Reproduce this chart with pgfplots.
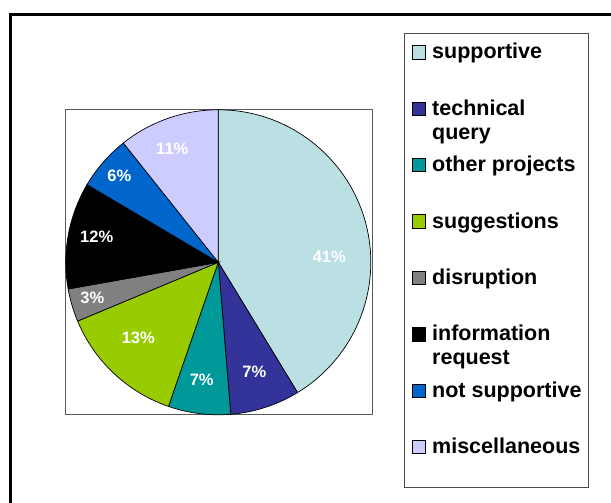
\documentclass[border=0pt]{standalone}
\usepackage{pgfplots}
\pgfplotsset{compat=1.18}
\usepackage{fontspec}
\setmainfont{Liberation Sans}

\definecolor{cSupp}{RGB}{187,224,227}
\definecolor{cTech}{RGB}{51,51,153}
\definecolor{cOther}{RGB}{0,153,153}
\definecolor{cSugg}{RGB}{153,204,0}
\definecolor{cDisr}{RGB}{128,128,128}
\definecolor{cInfo}{RGB}{0,0,0}
\definecolor{cNot}{RGB}{0,102,204}
\definecolor{cMisc}{RGB}{204,204,255}

% slice: {start %}{share %}{colour}, clockwise from the top
\newcommand{\slice}[3]{%
  \filldraw[fill=#3, draw=black, line width=0.7pt]
    (axis cs:0,0) -- (axis cs:{152.5*cos(90-3.6*#1)},{152.5*sin(90-3.6*#1)})
    arc[start angle={90-3.6*#1}, end angle={90-3.6*(#1+#2)}, radius=152.5] -- cycle;}
\newcommand{\plabel}[3]{%
  \node[text=white, font=\bfseries\fontsize{16.5}{19}\selectfont] at (axis cs:#1,#2) {#3};}
% legend entry: {baseline y}{colour}{text}
\newcommand{\lentry}[3]{%
  \filldraw[fill=#2, draw=black, line width=0.6pt] (412,#1) rectangle (425.5,#1+13.5);
  \node[anchor=base west, inner sep=0pt, font=\bfseries\fontsize{21.5}{24}\selectfont] at (432,#1) {#3};}

\begin{document}
\begin{tikzpicture}[x=1pt, y=1pt]
\useasboundingbox (0,0) rectangle (611,503);
\fill[white] (0,0) rectangle (611,503);
% outer frame (cut at right and bottom)
\draw[line width=2.6pt] (10.7,0) -- (10.7,488.5) -- (611,488.5);

\begin{axis}[
    at={(65,89)}, anchor=south west,
    x=1pt, y=1pt,
    xmin=-153.3, xmax=153.7,
    ymin=-151.7, ymax=153.3,
    xtick=\empty, ytick=\empty,
    axis line style={gray!70!black, line width=0.8pt},
    clip=false,
]
\slice{0}{41.3}{cSupp}
\slice{41.3}{7.4}{cTech}
\slice{48.7}{6.6}{cOther}
\slice{55.3}{13.4}{cSugg}
\slice{68.7}{3.5}{cDisr}
\slice{72.2}{11.3}{cInfo}
\slice{83.5}{5.8}{cNot}
\slice{89.3}{10.7}{cMisc}

\plabel{111}{5.6}{41\%}
\plabel{36}{-109.4}{7\%}
\plabel{-16.6}{-117.7}{7\%}
\plabel{-80}{-76}{13\%}
\plabel{-126}{-36}{3\%}
\plabel{-121.6}{25.6}{12\%}
\plabel{-99}{86.3}{6\%}
\plabel{-46}{113}{11\%}
\end{axis}

% legend
\draw[gray!60!black, line width=0.8pt, fill=white] (404,16) rectangle (588,470);
\lentry{444}{cSupp}{supportive}
\lentry{387.6}{cTech}{technical}
\node[anchor=base west, inner sep=0pt, font=\bfseries\fontsize{21.5}{24}\selectfont] at (432,363.6) {query};
\lentry{331.2}{cOther}{other projects}
\lentry{274.8}{cSugg}{suggestions}
\lentry{218.4}{cDisr}{disruption}
\lentry{162}{cInfo}{information}
\node[anchor=base west, inner sep=0pt, font=\bfseries\fontsize{21.5}{24}\selectfont] at (432,138) {request};
\lentry{105.6}{cNot}{not supportive}
\lentry{49.2}{cMisc}{miscellaneous}
\end{tikzpicture}
\end{document}
